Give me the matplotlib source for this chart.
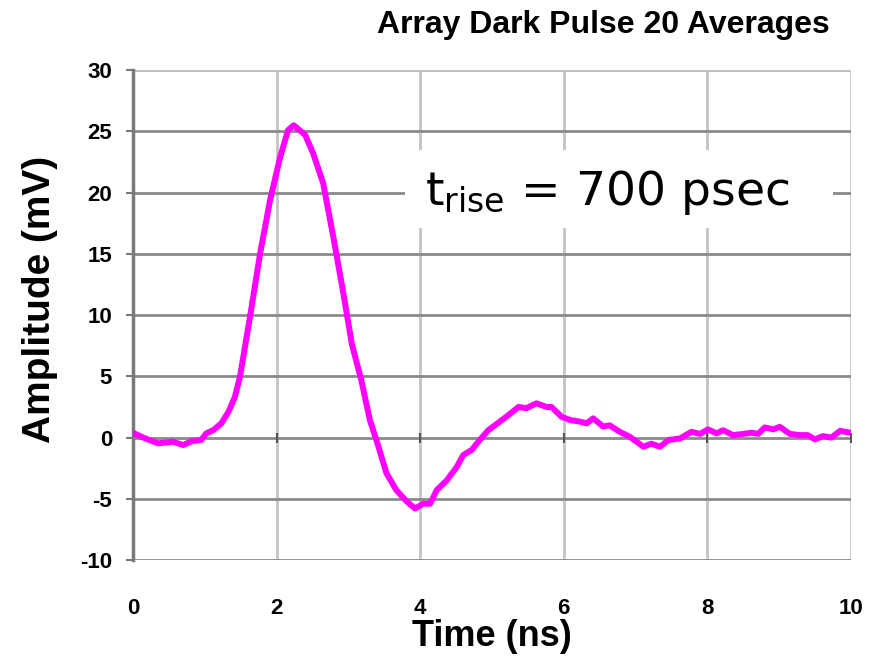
import matplotlib.pyplot as plt
from matplotlib.patches import Rectangle

plt.rcParams['axes.unicode_minus'] = False

# averaged dark pulse trace
time_ns = [0.00, 0.17, 0.35, 0.56, 0.70, 0.82, 0.95, 1.02, 1.12, 1.23,
           1.33, 1.42, 1.49, 1.63, 1.77, 1.91, 2.05, 2.16, 2.24, 2.40,
           2.51, 2.65, 2.79, 2.93, 3.05, 3.18, 3.30, 3.42, 3.53, 3.67,
           3.81, 3.93, 4.04, 4.14, 4.23, 4.37, 4.51, 4.60, 4.72, 4.83,
           4.95, 5.04, 5.20, 5.37, 5.48, 5.62, 5.76, 5.83, 5.97, 6.09,
           6.23, 6.32, 6.41, 6.55, 6.64, 6.78, 6.92, 7.11, 7.22, 7.34,
           7.46, 7.62, 7.78, 7.90, 8.01, 8.13, 8.22, 8.36, 8.50, 8.62,
           8.71, 8.80, 8.92, 9.01, 9.15, 9.29, 9.40, 9.50, 9.61, 9.73,
           9.85, 9.99]
amplitude_mv = [0.39, -0.07, -0.47, -0.34, -0.61, -0.29, -0.20, 0.34, 0.61, 1.16,
                2.10, 3.33, 4.96, 9.86, 15.0, 19.4, 22.9, 25.1, 25.5, 24.7,
                23.2, 20.75, 16.4, 11.8, 7.6, 4.7, 1.43, -0.75, -2.9, -4.3,
                -5.2, -5.8, -5.4, -5.4, -4.3, -3.5, -2.4, -1.43, -1.0, -0.2,
                0.6, 1.0, 1.7, 2.5, 2.4, 2.8, 2.5, 2.5, 1.7, 1.43,
                1.3, 1.16, 1.57, 0.9, 1.0, 0.47, 0.07, -0.75, -0.5, -0.75,
                -0.2, -0.07, 0.47, 0.3, 0.67, 0.34, 0.6, 0.2, 0.3, 0.4,
                0.3, 0.83, 0.67, 0.88, 0.3, 0.2, 0.2, -0.15, 0.12, 0.0,
                0.55, 0.4]

x_ticks = [0, 2, 4, 6, 8, 10]
y_ticks = [-10, -5, 0, 5, 10, 15, 20, 25, 30]

fig = plt.figure(figsize=(8.79, 6.62), dpi=100)
ax = fig.add_axes([0.1513, 0.154, 0.8167, 0.740])

ax.set_xlim(0, 10)
ax.set_ylim(-10, 30)
ax.set_xticks(x_ticks)
ax.set_yticks(y_ticks)

# grid: darker horizontal lines, lighter vertical lines
for yv in y_ticks:
    ax.axhline(yv, color='#8a8a8a', lw=2, zorder=1)
for xv in x_ticks:
    ax.axvline(xv, color='#c4c4c4', lw=2, zorder=0.9)
ax.axhline(30, color='#c4c4c4', lw=2, zorder=1.1)

for side in ['top', 'right', 'bottom']:
    ax.spines[side].set_visible(False)
ax.spines['left'].set_color('#7a7a7a')
ax.spines['left'].set_linewidth(2.5)

ax.tick_params(axis='y', length=5, width=1.5, color='#7a7a7a', pad=10,
               labelsize=16)
ax.tick_params(axis='x', length=0, pad=27, labelsize=16)
for lab in ax.get_xticklabels() + ax.get_yticklabels():
    lab.set_fontfamily('Liberation Sans')
    lab.set_fontweight('bold')

# small tick marks where the time axis crosses zero
ax.plot(x_ticks, [0] * len(x_ticks), ls='none', marker='|', ms=7, mew=1.5,
        color='#555555', zorder=1.5)

# white panel behind the rise-time annotation
ax.add_patch(Rectangle((3.79, 17.1), 5.96, 6.4, facecolor='white',
                       edgecolor='none', zorder=2))
ax.text(4.07, 19.0, r'$\mathregular{t_{rise}}$ = 700 psec', fontsize=34,
        family='DejaVu Sans', ha='left', va='baseline', zorder=3)

ax.plot(time_ns, amplitude_mv, color='#ff00ff', lw=4.3,
        solid_joinstyle='round', solid_capstyle='round', zorder=4)

fig.text(0.944, 0.962, 'Array Dark Pulse 20 Averages', ha='right',
         va='center', fontsize=23, fontweight='bold', family='Liberation Sans')
fig.text(0.0455, 0.547, 'Amplitude (mV)', rotation=90, ha='center',
         va='center', fontsize=28, fontweight='bold', family='Liberation Sans')
fig.text(0.56, 0.038, 'Time (ns)', ha='center', va='center', fontsize=26,
         fontweight='bold', family='Liberation Sans')

fig.savefig('out.png', dpi=100)
